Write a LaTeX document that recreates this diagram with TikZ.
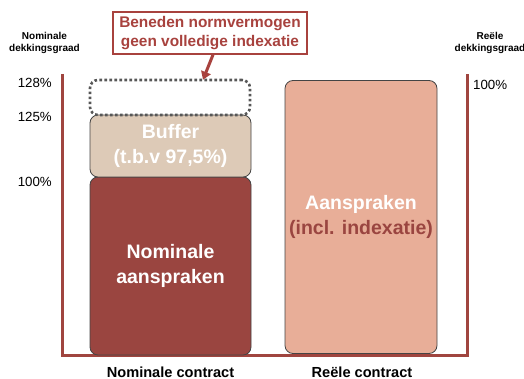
\documentclass[tikz,border=0pt]{standalone}
\usepackage{fontspec}
\setmainfont{Liberation Sans}
\usetikzlibrary{arrows.meta}
\definecolor{nomred}{HTML}{9A4540}
\definecolor{axisred}{HTML}{A0453F}
\definecolor{bufbeige}{HTML}{DDCAB7}
\definecolor{aanpink}{HTML}{E8AE98}
\definecolor{callred}{HTML}{A8423E}
\definecolor{edgegray}{HTML}{444444}
\tikzset{
  box/.style={draw=edgegray, line width=0.8pt, rounded corners=8pt, inner sep=0pt, align=center,
    font=\fontsize{19.5}{24.5}\selectfont\bfseries},
  axisline/.style={draw=axisred, line width=3pt, line join=miter},
  ticklbl/.style={anchor=east, inner sep=0pt, font=\fontsize{13.3}{16}\selectfont},
  headlbl/.style={align=center, inner sep=0pt, font=\fontsize{10}{12}\selectfont\bfseries},
  footlbl/.style={inner sep=0pt, font=\fontsize{14.6}{16}\selectfont\bfseries},
  callout/.style={draw=callred, line width=1.5pt, fill=white, align=center, inner sep=0pt,
    text=callred, font=\fontsize{15.4}{19}\selectfont\bfseries},
  callarrow/.style={draw=callred, line width=3pt, -{Triangle[length=8pt,width=10pt]}},
}
\begin{document}
\begin{tikzpicture}[x=1pt,y=-1pt]
\useasboundingbox (0,0) rectangle (524,379);
% axes
\coordinate (lt) at (62,74);
\coordinate (lb) at (62,355);
\coordinate (rb) at (467,355);
\coordinate (rt) at (467,74);
\draw[axisline] (lt) -- (lb) -- (rb) -- (rt);
% boxes
\node[box, fill=nomred, text=white, minimum width=161pt, minimum height=178pt] (nom) at (170.5,266) {Nominale\\aanspraken};
\node[box, fill=bufbeige, text=white, minimum width=161pt, minimum height=62pt] (buf) at (170.5,146) {Buffer\\(t.b.v 97,5\%)};
\node[draw=edgegray!90, line width=2.6pt, dash pattern=on 2.6pt off 2.4pt, rounded corners=8pt,
  minimum width=160pt, minimum height=35pt, inner sep=0pt] (dot) at (170,97.5) {};
\node[box, fill=aanpink, minimum width=152pt, minimum height=273pt] (aan) at (361,217) {\textcolor{white}{Aanspraken}\\\textcolor{nomred}{(incl. indexatie)}};
% callout
\node[callout, minimum width=194pt, minimum height=42pt] (call) at (210,33) {Beneden normvermogen\\geen volledige indexatie};
\draw[callarrow] ([xshift=3pt]call.south) -- ([xshift=33pt,yshift=-1pt]dot.north);
% tick labels
\node[ticklbl] (t128) at (52,83) {128\%};
\node[ticklbl] (t125) at (52,117) {125\%};
\node[ticklbl] (t100) at (52,182) {100\%};
\node[ticklbl, anchor=west] (r100) at (473,85) {100\%};
% headers
\node[headlbl] (hl) at (44.5,43) {Nominale\\dekkingsgraad};
\node[headlbl] (hr) at (490,43) {Reële\\dekkingsgraad};
% footers
\node[footlbl, anchor=base] (fl) at (170.5,377) {Nominale contract};
\node[footlbl, anchor=base] (fr) at (362,377) {Reële contract};
\end{tikzpicture}
\end{document}
